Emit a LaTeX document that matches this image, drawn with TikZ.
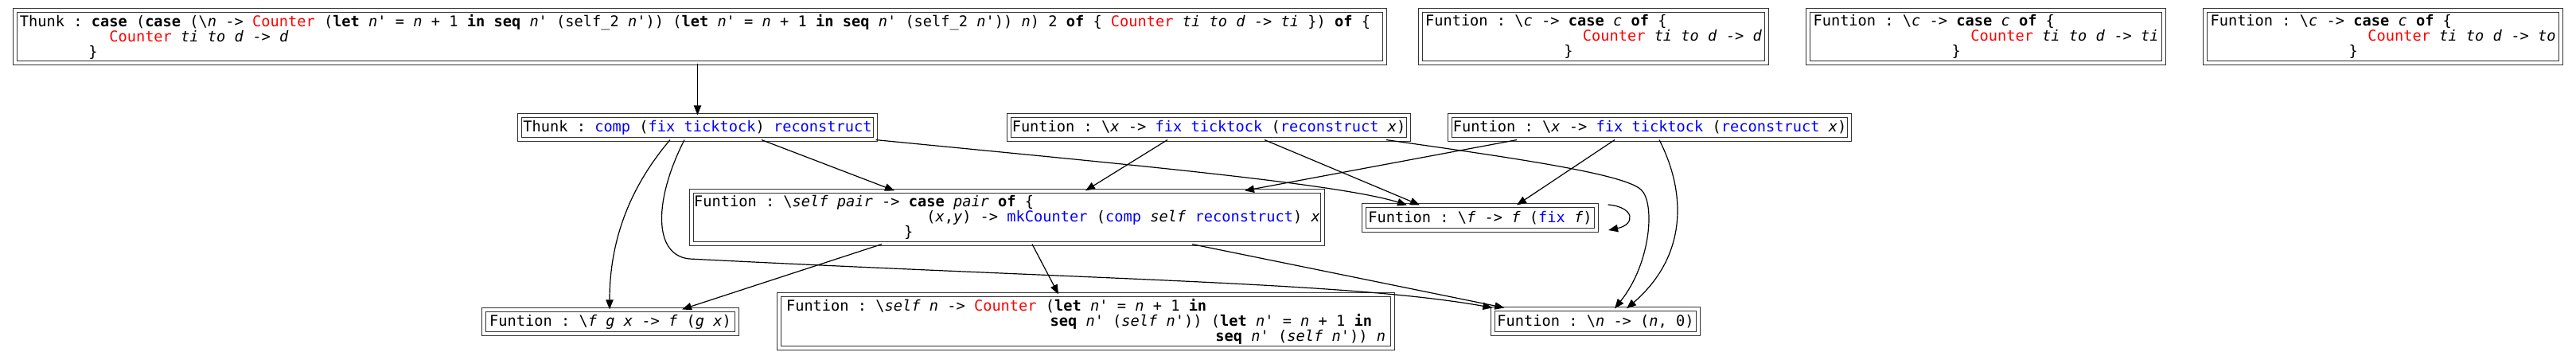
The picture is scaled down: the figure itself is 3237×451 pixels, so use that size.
\documentclass[tikz,border=0pt]{standalone}
\usepackage{fontspec}
\setmonofont{DejaVu Sans Mono}[ItalicFont={DejaVu Sans Mono Oblique},BoldFont={DejaVu Sans Mono Bold},BoldItalicFont={DejaVu Sans Mono Bold Oblique}]
\usetikzlibrary{arrows.meta,calc}
\newdimen\pxu \pxu=0.75pt
\newdimen\gcw \gcw=8.4287pt
\newcommand\gkw[1]{\textbf{#1}}
\newcommand\gva[1]{\textit{#1}}
\newcommand\grd[1]{\textcolor{red}{#1}}
\newcommand\gbl[1]{\textcolor{blue}{#1}}
\newcommand\gind[1]{\hspace*{#1\gcw}}
\newcommand\gbsl{\textbackslash}
\begin{document}
\begin{tikzpicture}[x=0.75pt,y=-0.75pt,
  box/.style={draw=black!80, line width=0.9pt, double=white, double distance=2.6pt,
    inner xsep=2\pxu, inner ysep=2\pxu, align=left,
    font=\ttfamily\fontsize{14pt}{14.2pt}\selectfont},
  edge/.style={draw=black, line width=0.9pt, -{Triangle[length=9pt,width=7pt]}}]
\useasboundingbox (0,0) rectangle (3237,451);
\fill[white] (0,0) rectangle (3237,451);

% row 1
\node[box, minimum width=1721\pxu, minimum height=66\pxu] (A) at (879.5,46)
 {Thunk : \gkw{case} (\gkw{case} (\gbsl\gva{n} -> \grd{Counter} (\gkw{let} \gva{n}' = \gva{n} + 1 \gkw{in} \gkw{seq} \gva{n}' (self\_2 \gva{n}')) (\gkw{let} \gva{n}' = \gva{n} + 1 \gkw{in} \gkw{seq} \gva{n}' (self\_2 \gva{n}')) \gva{n}) 2 \gkw{of} \{ \grd{Counter} \gva{ti} \gva{to} \gva{d} -> \gva{ti} \}) \gkw{of} \{\hspace*{12\pxu}\\
  \gind{10}\grd{Counter} \gva{ti} \gva{to} \gva{d} -> \gva{d}\\
  \gind{7.7}\}};
\node[box, minimum width=435\pxu, minimum height=66\pxu] (B1) at (2002.5,46)
 {Funtion : \gbsl\gva{c} -> \gkw{case} \gva{c} \gkw{of} \{\\
  \gind{17.6}\grd{Counter} \gva{ti} \gva{to} \gva{d} -> \gva{d}\\
  \gind{15.5}\}};
\node[box, minimum width=447\pxu, minimum height=66\pxu] (B2) at (2495.5,46)
 {Funtion : \gbsl\gva{c} -> \gkw{case} \gva{c} \gkw{of} \{\\
  \gind{17.6}\grd{Counter} \gva{ti} \gva{to} \gva{d} -> \gva{ti}\\
  \gind{15.5}\}};
\node[box, minimum width=447\pxu, minimum height=66\pxu] (B3) at (2994.5,46)
 {Funtion : \gbsl\gva{c} -> \gkw{case} \gva{c} \gkw{of} \{\\
  \gind{17.6}\grd{Counter} \gva{ti} \gva{to} \gva{d} -> \gva{to}\\
  \gind{15.5}\}};

% row 2
\node[box, minimum width=447\pxu, minimum height=30\pxu] (C) at (876.5,160)
 {Thunk : \gbl{comp} (\gbl{fix ticktock}) \gbl{reconstruct}};
\node[box, minimum width=502\pxu, minimum height=30\pxu] (D) at (1519,160)
 {Funtion : \gbsl\gva{x} -> \gbl{fix ticktock} (\gbl{reconstruct} \gva{x})};
\node[box, minimum width=502\pxu, minimum height=30\pxu] (E) at (2073,160)
 {Funtion : \gbsl\gva{x} -> \gbl{fix ticktock} (\gbl{reconstruct} \gva{x})};

% row 3
\node[box, minimum width=793\pxu, minimum height=66\pxu] (F) at (1265.5,273)
 {Funtion : \gbsl\gva{self pair} -> \gkw{case} \gva{pair} \gkw{of} \{\\
  \gind{26}(\gva{x},\gva{y}) -> \gbl{mkCounter} (\gbl{comp} \gva{self} \gbl{reconstruct}) \gva{x}\\
  \gind{23.5}\}};
\node[box, minimum width=292\pxu, minimum height=31\pxu] (G) at (1860,273.5)
 {Funtion : \gbsl\gva{f} -> \gva{f} (\gbl{fix} \gva{f})};

% row 4
\node[box, minimum width=318\pxu, minimum height=30\pxu] (H) at (767,404)
 {Funtion : \gbsl\gva{f g x} -> \gva{f} (\gva{g x})};
\node[box, minimum width=771\pxu, minimum height=67\pxu] (I) at (1364.5,403.5)
 {Funtion : \gbsl\gva{self n} -> \grd{Counter} (\gkw{let} \gva{n}' = \gva{n} + 1 \gkw{in}\\
  \gind{29.5}\gkw{seq} \gva{n}' (\gva{self n}')) (\gkw{let} \gva{n}' = \gva{n} + 1 \gkw{in}\\
  \gind{48}\gkw{seq} \gva{n}' (\gva{self n}')) \gva{n}};
\node[box, minimum width=258\pxu, minimum height=31\pxu] (J) at (2005,403.5)
 {Funtion : \gbsl\gva{n} -> (\gva{n}, 0)};

% waypoints
\coordinate (cjm) at (866,325);
\coordinate (djm) at (2062,238);

% edges
\draw[edge] (A.south -| C.north) -- (C.north);
\draw[edge] ($(C.south)+(-34.5,0)$) .. controls (800,225) and (766,290) .. ($(H.north)+(-1,0)$);
\draw[edge] ($(C.south)+(-16.5,0)$) .. controls (822,250) and (820,320) .. (cjm)
   .. controls (1400,352) and (1700,355) .. ($(J.north west)+(0,-1)$);
\draw[edge] ($(C.south)+(80.5,0)$) -- ($(F.north)+(-141.5,0)$);
\draw[edge] (C.south east) .. controls (1400,205) and (1680,230) .. ($(G.north)+(-92,0)$);
\draw[edge] ($(D.south)+(-52,0)$) -- ($(F.north)+(98.5,0)$);
\draw[edge] ($(D.south)+(70,0)$) -- ($(G.north)+(-76,0)$);
\draw[edge] ($(D.south)+(223,0)$) .. controls (1900,198) and (2040,218) .. (djm)
   .. controls (2080,254) and (2075,330) .. ($(J.north)+(24,0)$);
\draw[edge] ($(E.south)+(-167,0)$) -- ($(F.north)+(298.5,0)$);
\draw[edge] ($(E.south)+(-44,0)$) -- ($(G.north)+(46,0)$);
\draw[edge] ($(E.south)+(12,0)$) .. controls (2118,240) and (2122,320) .. ($(J.north)+(39,0)$);
\draw[edge] ($(G.east)+(14,-16.5)$) .. controls (2055,260) and (2055,282) .. ($(G.east)+(14.5,15.5)$);
\draw[edge] ($(F.south)+(-157.5,0)$) -- ($(H.north)+(90,0)$);
\draw[edge] ($(F.south)+(31.5,0)$) -- ($(I.north)+(-34.5,0)$);
\draw[edge] ($(F.south)+(232.5,0)$) -- ($(J.north west)+(15,-1)$);
\end{tikzpicture}
\end{document}
